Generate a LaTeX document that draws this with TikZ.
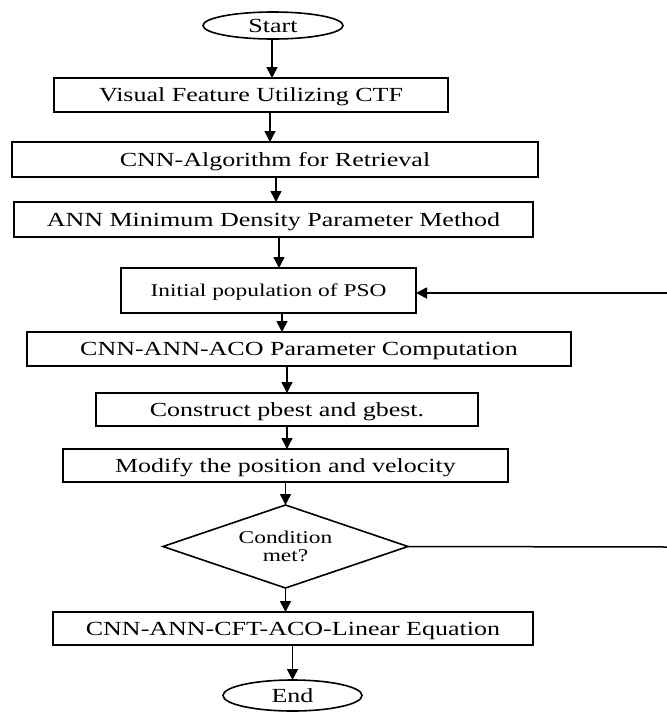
\documentclass[tikz,border=0pt]{standalone}
\usepackage{fontspec}
\setmainfont[FakeStretch=1.3]{Liberation Serif}
\usetikzlibrary{shapes.geometric,arrows.meta}
\begin{document}
\begin{tikzpicture}[x=1pt,y=1pt,
  procbox/.style={draw=black,line width=1.8pt,inner sep=0pt,outer sep=0pt,text height=13.3pt,text depth=0pt,font=\fontsize{20}{22}\selectfont},
  termbox/.style={draw=black,ellipse,line width=1.6pt,inner sep=0pt,outer sep=0pt,text height=13.3pt,text depth=0pt,font=\fontsize{20}{22}\selectfont},
  decbox/.style={draw=black,diamond,aspect=2.95,line width=1.6pt,inner sep=0pt,outer sep=0pt,align=center,font=\fontsize{18}{18.4}\selectfont},
  arr/.style={line width=1.5pt,-{Triangle[length=11pt,width=11pt]}},
  plain/.style={line width=1.5pt}]
\useasboundingbox (0,0) rectangle (667,-713);
\node[termbox,minimum width=140,minimum height=27] (start) at (273,-25.5) {Start};
\node[procbox,minimum width=394,minimum height=34] (b1) at (251,-95) {Visual Feature Utilizing CTF};
\node[procbox,minimum width=526,minimum height=35] (b2) at (275,-159.5) {CNN-Algorithm for Retrieval};
\node[procbox,minimum width=519,minimum height=35] (b3) at (273.5,-219.5) {ANN Minimum Density Parameter Method};
\node[procbox,minimum width=295,minimum height=45,text height=12pt,font=\fontsize{18}{20}\selectfont] (b4) at (268.5,-290.5) {Initial population of PSO};
\node[procbox,minimum width=544,minimum height=34] (b5) at (299,-349) {CNN-ANN-ACO Parameter Computation};
\node[procbox,minimum width=382,minimum height=33] (b6) at (287,-409.5) {Construct pbest and gbest.};
\node[procbox,minimum width=445,minimum height=33] (b7) at (285.5,-465.5) {Modify the position and velocity};
\node[decbox,minimum width=245,minimum height=83] (dec) at (285.5,-546.5) {Condition\\met?};
\node[procbox,minimum width=480,minimum height=33] (b8) at (293,-628.5) {CNN-ANN-CFT-ACO-Linear Equation};
\node[termbox,minimum width=139,minimum height=31] (end) at (292.5,-695.5) {End};
\coordinate (fbA) at (667,-547);
\coordinate (fbB) at (667,-293);
\draw[arr] ([xshift=-1pt]start.south) -- ([xshift=-1pt]start.south |- b1.north);
\draw[arr] ([xshift=19pt]b1.south) -- ([xshift=19pt]b1.south |- b2.north);
\draw[arr] ([xshift=1pt]b2.south) -- ([xshift=1pt]b2.south |- b3.north);
\draw[arr] ([xshift=5.5pt]b3.south) -- ([xshift=5.5pt]b3.south |- b4.north);
\draw[arr] ([xshift=13.5pt]b4.south) -- ([xshift=13.5pt]b4.south |- b5.north);
\draw[arr] ([xshift=-12pt]b5.south) -- ([xshift=-12pt]b5.south |- b6.north);
\draw[arr] (b6.south) -- (b6.south |- b7.north);
\draw[arr] (b7.south -| dec.north) -- (dec.north);
\draw[arr] (dec.south) -- (dec.south |- b8.north);
\draw[arr] (b8.south -| end.north) -- (end.north);
\draw[plain] (dec.east) -- (fbA);
\draw[arr] (fbB) -- (fbB -| b4.east);
\end{tikzpicture}
\end{document}
